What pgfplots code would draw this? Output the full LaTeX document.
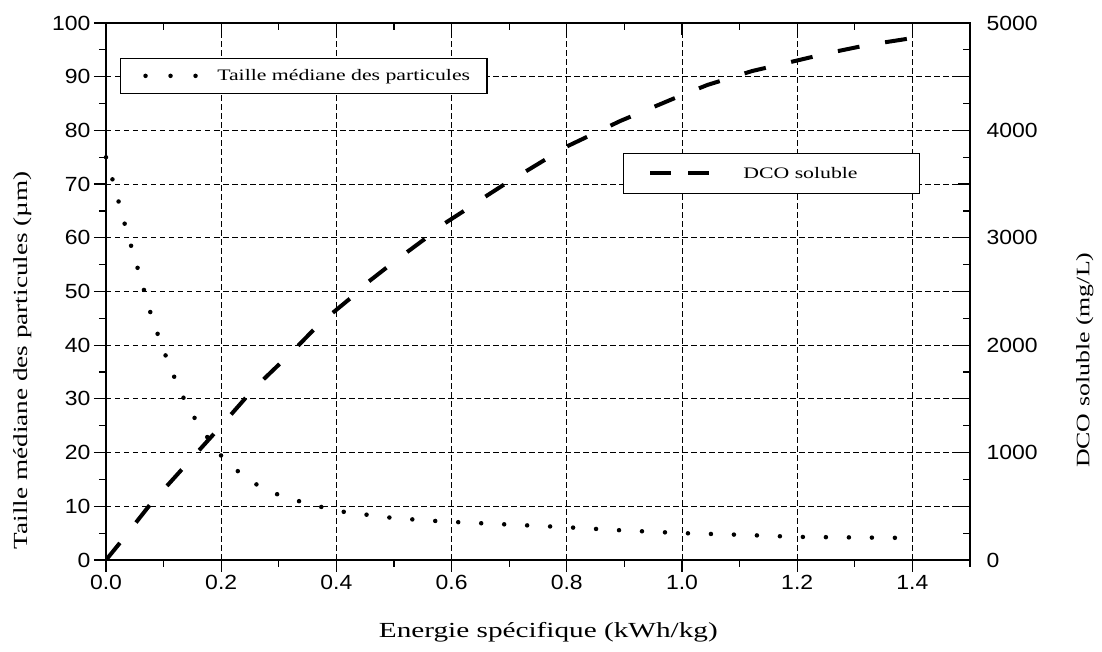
\documentclass[border=0pt]{standalone}
\usepackage{fontspec}
\setmainfont{Liberation Serif}[FakeStretch=1.36]
\setsansfont{Liberation Sans}[FakeStretch=1.12]
\usepackage{pgfplots}
\pgfplotsset{compat=1.18}

\pgfplotstableread{
x y
0     75
0.012 70.6
0.023 66.3
0.034 62
0.045 58
0.06  52.5
0.08  45
0.1   39
0.111 36.1
0.127 31.8
0.148 27.4
0.175 23
0.203 19
0.243 15.2
0.282 12.8
0.323 11.3
0.362 10.2
0.403 9.1
0.441 8.6
0.482 8.0
0.55  7.4
0.6   7.1
0.7   6.6
0.8   6.1
0.881 5.6
1.0   5.0
1.1   4.7
1.2   4.3
1.3   4.2
1.4   4.1
}\taille

\pgfplotstableread{
x y
0     0
0.024 158
0.076 512
0.137 875
0.198 1238
0.256 1592
0.323 1937
0.36  2141
0.389 2281
0.427 2449
0.455 2588
0.493 2747
0.523 2868
0.558 3007
0.589 3138
0.624 3259
0.655 3371
0.69  3492
0.8   3850
0.893 4088
0.992 4311
1.044 4423
1.122 4553
1.189 4637
1.255 4721
1.322 4795
1.4   4860
}\dco

\begin{document}
\begin{tikzpicture}
\pgfplotsset{
  common/.style={
    scale only axis, width=864pt, height=537pt,
    xmin=0, xmax=1.5,
    axis line style={line width=1.4pt, black},
    tick style={line width=1.2pt, black},
    major tick length=12pt, minor tick length=7pt,
    tick label style={font=\sffamily\fontsize{20.5}{24}\selectfont},
    /pgf/number format/assume math mode=true,
    label style={font=\fontsize{20}{24}\selectfont},
    legend cell align=left,
  }
}
\begin{axis}[common,
  ymin=0, ymax=100,
  xtick={0,0.2,0.4,0.6,0.8,1.0,1.2,1.4},
  xticklabels={0.0,0.2,0.4,0.6,0.8,1.0,1.2,1.4},
  minor xtick={0.1,0.3,0.5,0.7,0.9,1.1,1.3,1.5},
  ytick={0,10,20,30,40,50,60,70,80,90,100},
  minor ytick={5,15,25,35,45,55,65,75,85,95},
  xtick pos=left, ytick pos=left, tick align=outside,
  grid=major,
  major grid style={black, line width=0.8pt, dash pattern=on 5.5pt off 3.5pt},
  xlabel={Energie spécifique (kWh/kg)},
  ylabel={Taille médiane des particules (µm)},
  xlabel style={at={(axis description cs:0.512,-0.134)}, anchor=center, font=\fontsize{21.5}{24}\selectfont},
  ylabel style={at={(axis description cs:-0.097,0.372)}, anchor=center},
  clip=false,
  legend style={at={(0.016,0.935)}, anchor=north west, draw=black, line width=1.3pt,
    inner xsep=12pt, inner ysep=9pt, font=\fontsize{16}{19}\selectfont},
]
\addplot[black, line width=4.5pt, line cap=round, dash pattern=on 0pt off 23pt,
  legend image code/.code={\draw[white, opacity=0, line width=0.1pt] (0pt,0pt) -- (1pt,0pt);
    \draw[black, line width=4.5pt, line cap=round, dash pattern=on 0pt off 25pt] (13pt,0pt) -- (63.5pt,0pt);}]
  table[x=x,y=y] {\taille};
\addlegendentry{\hspace*{17pt}Taille médiane des particules\hspace*{3pt}}
\end{axis}
\begin{axis}[common,
  ymin=0, ymax=5000,
  xtick={0,0.2,0.4,0.6,0.8,1.0,1.2,1.4},
  xticklabels={},
  minor xtick={0.1,0.3,0.5,0.7,0.9,1.1,1.3,1.5},
  ytick={0,500,1000,1500,2000,2500,3000,3500,4000,4500,5000},
  yticklabels={0,,1000,,2000,,3000,,4000,,5000},
  minor ytick={250,750,1250,1750,2250,2750,3250,3750,4250,4750},
  yticklabel style={xshift=13pt},
  xtick pos=right, ytick pos=right, yticklabel pos=right, tick align=inside,
  ylabel={DCO soluble (mg/L)},
  ylabel style={at={(axis description cs:1.133,0.372)}, anchor=center, font=\fontsize{19}{22}\selectfont},
  legend style={at={(0.598,0.758)}, anchor=north west, draw=black, line width=1.3pt,
    inner xsep=12pt, inner ysep=11.5pt, font=\fontsize{16}{19}\selectfont},
]
\addplot[black, line width=4pt, dash pattern=on 22pt off 26pt,
  legend image code/.code={\draw[white, opacity=0, line width=0.1pt] (0pt,0pt) -- (1pt,0pt);
    \draw[black, line width=4pt, dash pattern=on 21pt off 17pt] (15pt,0pt) -- (75pt,0pt);}]
  table[x=x,y=y] {\dco};
\addlegendentry{\hspace*{29pt}DCO soluble\hspace*{48pt}}
\end{axis}
\pgfresetboundingbox
\path (-106pt,-92pt) rectangle (996pt,560pt);
\end{tikzpicture}
\end{document}
